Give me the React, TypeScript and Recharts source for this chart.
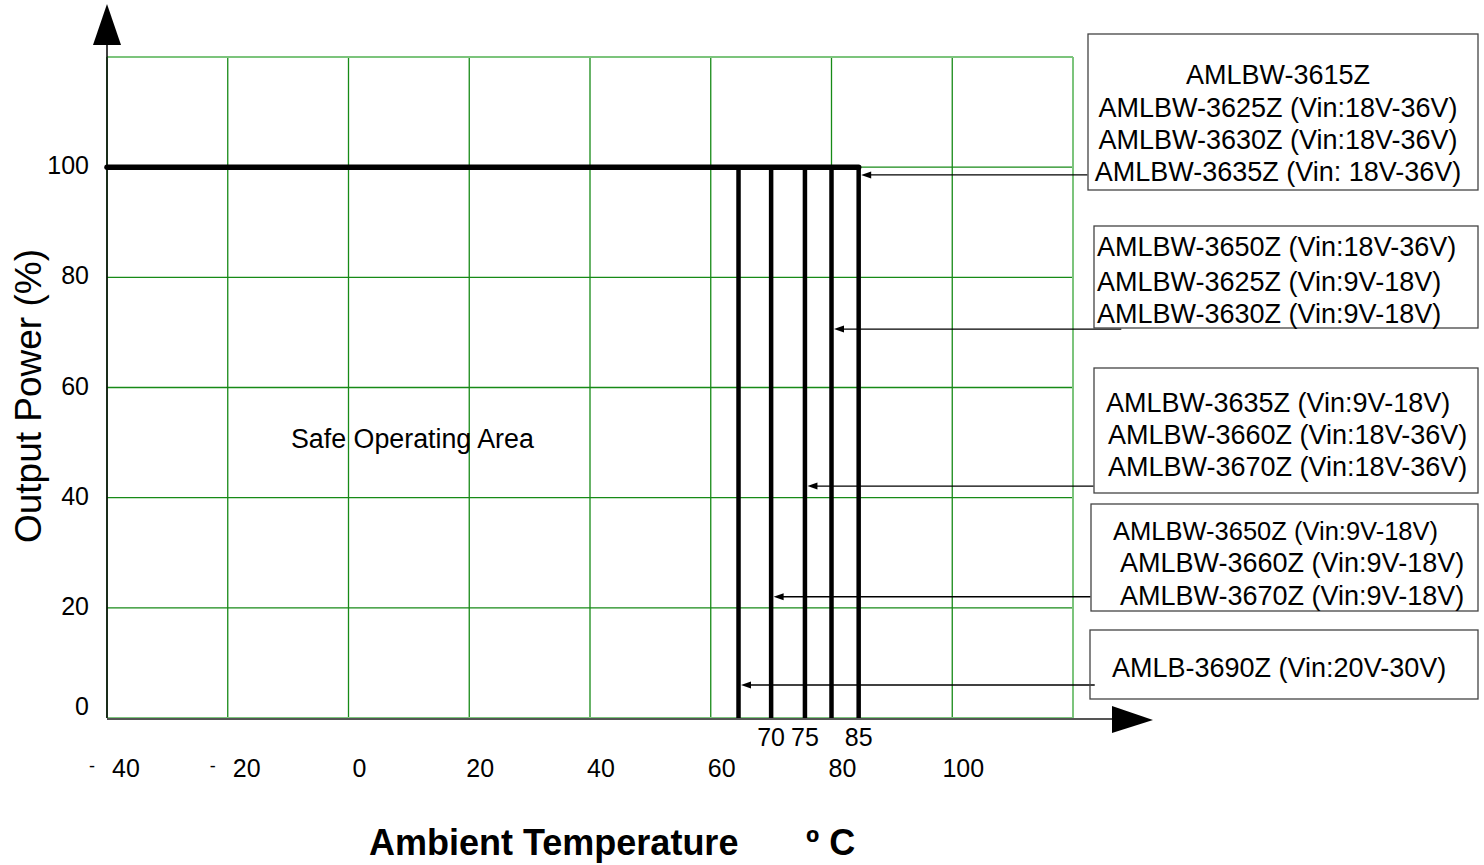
import React from 'react';
import { ComposedChart, Line, XAxis, YAxis, CartesianGrid, ReferenceLine } from 'recharts';

const FONT = '"Liberation Sans", Arial, Helvetica, sans-serif';

// ---------- data ----------
const xTicks = [-40, -20, 0, 20, 40, 60, 80, 100, 120];
const xTickLabels = ['- 40', '- 20', '0', '20', '40', '60', '80', '100', ''];
const yTicks = [0, 20, 40, 60, 80, 100, 120];
const yTickLabels = ['0', '20', '40', '60', '80', '100', ''];

const curveTemps = [-40, 84.5];
const curvePower = [100, 100];

const cutoffTemps = [64.6, 70, 75.6, 80, 84.5];
const cutoffLabels = ['', '70', '75', '', '85'];

// arrows: which cutoff each model group points to, at which power level, starting temp
const arrowTarget = [4, 3, 2, 1, 0];
const arrowLevel = [98.6, 70.6, 42.1, 22.0, 6.0];
const arrowStart = [122.4, 128.0, 123.4, 122.9, 123.6];

const groupModels = [
  ['AMLBW-3615Z', 'AMLBW-3625Z (Vin:18V-36V)', 'AMLBW-3630Z (Vin:18V-36V)', 'AMLBW-3635Z (Vin: 18V-36V)'],
  ['AMLBW-3650Z (Vin:18V-36V)', 'AMLBW-3625Z (Vin:9V-18V)', 'AMLBW-3630Z (Vin:9V-18V)'],
  ['AMLBW-3635Z (Vin:9V-18V)', 'AMLBW-3660Z (Vin:18V-36V)', 'AMLBW-3670Z (Vin:18V-36V)'],
  ['AMLBW-3650Z (Vin:9V-18V)', 'AMLBW-3660Z (Vin:9V-18V)', 'AMLBW-3670Z (Vin:9V-18V)'],
  ['AMLB-3690Z (Vin:20V-30V)'],
];

const curveData = curveTemps.map((t, i) => ({ t, p: curvePower[i] }));

// ---------- layout ----------
const boxLayout = [
  { x: 1088, y: 34, w: 390, h: 156, anchor: 'middle', tx: [1278, 1278, 1278, 1278], ty: [74, 107, 139, 171], fs: [27, 27, 27, 27] },
  { x: 1094, y: 226, w: 384, h: 102, anchor: 'start', tx: [1097, 1097, 1097], ty: [246, 281, 313], fs: [27, 27, 27] },
  { x: 1094, y: 368, w: 384, h: 125, anchor: 'start', tx: [1106, 1108, 1108], ty: [402, 434, 466], fs: [27, 27, 27] },
  { x: 1091, y: 504, w: 387, h: 107, anchor: 'start', tx: [1113, 1120, 1120], ty: [530, 562, 595], fs: [25.5, 27, 27] },
  { x: 1090, y: 630, w: 388, h: 69, anchor: 'start', tx: [1112], ty: [667], fs: [27] },
];

const GRID = '#178a17';
const GRID_LIGHT = '#7cc47c';
const PLOT_BOTTOM = 718;
const PLOT_LEFT = 107;

const XTick = (props: any) => {
  const { x, payload } = props;
  const idx = xTicks.indexOf(payload.value);
  const label = idx >= 0 ? xTickLabels[idx] : '';
  if (!label) return <g />;
  const neg = label.startsWith('- ');
  const num = neg ? label.slice(2) : label;
  const y = PLOT_BOTTOM;
  return (
    <g>
      {neg && (
        <text x={x - 15} y={y + 54} fontSize={18} fontFamily={FONT} textAnchor="middle" fill="#000">
          -
        </text>
      )}
      <text x={x + (neg ? 19 : 11)} y={y + 59} fontSize={25} fontFamily={FONT} textAnchor="middle" fill="#000">
        {num}
      </text>
    </g>
  );
};

const CutTick = (props: any) => {
  const { x, payload } = props;
  const idx = cutoffTemps.indexOf(payload.value);
  const label = idx >= 0 ? cutoffLabels[idx] : '';
  if (!label) return <g />;
  return (
    <text x={x} y={PLOT_BOTTOM + 28} fontSize={25} fontFamily={FONT} textAnchor="middle" fill="#000">
      {label}
    </text>
  );
};

const YTick = (props: any) => {
  const { y, payload } = props;
  const idx = yTicks.indexOf(payload.value);
  const label = idx >= 0 ? yTickLabels[idx] : '';
  if (!label) return <g />;
  const dy = payload.value === 0 ? -3 : 7;
  return (
    <text x={PLOT_LEFT - 18} y={y + dy} fontSize={25} fontFamily={FONT} textAnchor="end" fill="#000">
      {label}
    </text>
  );
};

const ArrowShape = (props: any) => {
  const { x1, y1, x2, y2 } = props;
  const tip = x2 + 2.5;
  return (
    <g>
      <line x1={x1} y1={y1} x2={tip + 6} y2={y2} stroke="#000" strokeWidth={1.4} />
      <path d={`M${tip},${y2} L${tip + 10},${y2 - 3.5} L${tip + 10},${y2 + 3.5} Z`} fill="#000" />
    </g>
  );
};

export default function App() {
  return (
    <div style={{ position: 'absolute', left: 0, top: 0, width: 1484, height: 865, background: '#fff' }}>
      <div style={{ position: 'absolute', left: 0, top: 0 }}>
        <ComposedChart
          width={1484}
          height={865}
          data={curveData}
          margin={{ top: 57, left: 47, right: 411, bottom: 57 }}
        >
          <CartesianGrid stroke={GRID} strokeWidth={1.3} />
          <XAxis
            dataKey="t"
            type="number"
            domain={[-40, 120]}
            ticks={xTicks}
            interval={0}
            height={80}
            axisLine={false}
            tickLine={false}
            tick={(p: any) => <XTick {...p} />}
          />
          <XAxis
            xAxisId="cut"
            dataKey="t"
            type="number"
            domain={[-40, 120]}
            ticks={cutoffTemps}
            interval={0}
            height={10}
            axisLine={false}
            tickLine={false}
            tick={(p: any) => <CutTick {...p} />}
          />
          <YAxis
            type="number"
            domain={[0, 120]}
            ticks={yTicks}
            interval={0}
            width={60}
            axisLine={false}
            tickLine={false}
            tick={(p: any) => <YTick {...p} />}
          />
          <ReferenceLine y={120} stroke={GRID_LIGHT} strokeWidth={2} />
          <ReferenceLine x={120} stroke={GRID_LIGHT} strokeWidth={2} />
          <ReferenceLine y={0} stroke={GRID_LIGHT} strokeWidth={2} />
          {cutoffTemps.map((t, i) => (
            <ReferenceLine
              key={'cut' + i}
              segment={[{ x: t, y: 0 }, { x: t, y: 100 }]}
              stroke="#000"
              strokeWidth={4.5}
              ifOverflow="visible"
            />
          ))}
          <Line
            dataKey="p"
            stroke="#000"
            strokeWidth={5.5}
            strokeLinecap="round"
            dot={false}
            activeDot={false}
            isAnimationActive={false}
          />
          {arrowTarget.map((ti, i) => (
            <ReferenceLine
              key={'arr' + i}
              segment={[{ x: arrowStart[i], y: arrowLevel[i] }, { x: cutoffTemps[ti], y: arrowLevel[i] }]}
              ifOverflow="visible"
              shape={(p: any) => <ArrowShape {...p} />}
            />
          ))}
        </ComposedChart>
      </div>
      <svg
        width={1484}
        height={865}
        style={{ position: 'absolute', left: 0, top: 0, pointerEvents: 'none' }}
        fontFamily={FONT}
      >
        {/* axes with arrows */}
        <line x1={107} y1={45} x2={107} y2={718} stroke="#000" strokeWidth={1.5} />
        <path d="M107,4 L93,45 L121,45 Z" fill="#000" />
        <line x1={107} y1={719} x2={1113} y2={719} stroke="#555" strokeWidth={2} />
        <path d="M1112,706 L1153,720 L1112,733 Z" fill="#000" />

        {/* titles */}
        <text
          transform="translate(28,396) rotate(-90)"
          x={0}
          y={0}
          fontSize={37}
          textAnchor="middle"
          dominantBaseline="central"
          fill="#000"
        >
          Output Power (%)
        </text>
        <text x={369} y={855} fontSize={36} fontWeight="bold" fill="#000">
          Ambient Temperature
        </text>
        <text x={806} y={855} fontSize={36} fontWeight="bold" fill="#000">
          º C
        </text>
        <text x={291} y={448} fontSize={26.8} fill="#000">
          Safe Operating Area
        </text>

        {/* model boxes */}
        {boxLayout.map((b, i) => (
          <g key={'box' + i}>
            <rect x={b.x} y={b.y} width={b.w} height={b.h} fill="none" stroke="#444" strokeWidth={1.3} />
            {groupModels[i].map((m, j) => (
              <text
                key={j}
                x={b.tx[j]}
                y={b.ty[j] + 10}
                fontSize={b.fs[j]}
                textAnchor={b.anchor as any}
                fill="#000"
              >
                {m}
              </text>
            ))}
          </g>
        ))}
      </svg>
    </div>
  );
}
